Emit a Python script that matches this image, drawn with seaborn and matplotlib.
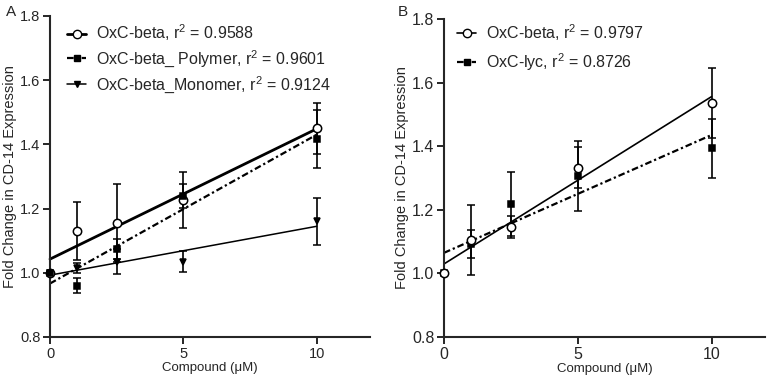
import seaborn as sns
import matplotlib.pyplot as plt
from matplotlib.lines import Line2D
import numpy as np

sns.set_style("ticks")
plt.rcParams['font.family'] = ['Liberation Sans', 'DejaVu Sans']
plt.rcParams['mathtext.default'] = 'regular'

# panel A data
dose = [0, 1, 2.5, 5, 10]
beta_a = [1.0, 1.131, 1.156, 1.227, 1.45]
beta_a_err = [0, 0.091, 0.121, 0.087, 0.08]
polymer = [1.0, 0.96, 1.074, 1.24, 1.417]
polymer_err = [0, 0.023, 0.032, 0.037, 0.09]
monomer = [1.0, 1.015, 1.035, 1.035, 1.16]
monomer_err = [0, 0.015, 0.04, 0.033, 0.073]
labels_a = ['OxC-beta, r$^2$ = 0.9588', 'OxC-beta_ Polymer, r$^2$ = 0.9601',
            'OxC-beta_Monomer, r$^2$ = 0.9124']

# panel B data
beta_b = [1.0, 1.105, 1.147, 1.333, 1.537]
beta_b_err = [0, 0.11, 0.035, 0.065, 0.11]
lyc = [1.0, 1.092, 1.218, 1.306, 1.393]
lyc_err = [0, 0.045, 0.1, 0.11, 0.093]
labels_b = ['OxC-beta, r$^2$ = 0.9797', 'OxC-lyc, r$^2$ = 0.8726']

dashdot = (0, (3, 1.3, 1, 1.3))

fig = plt.figure(figsize=(7.69, 3.79), dpi=100)
ax1 = fig.add_axes([50/769, 42/379, 320/769, 321/379])
ax2 = fig.add_axes([444/769, 42/379, 321/769, 318/379])


def draw(ax, y, err, marker, mfc, ms, ls, lw):
    x = np.array(dose)
    sns.regplot(x=x, y=np.array(y), ax=ax, scatter=False, ci=None, truncate=True,
                line_kws=dict(color='black', lw=lw, linestyle=ls))
    ax.errorbar(x, y, yerr=err, fmt=marker, color='black', mfc=mfc, mec='black',
                ms=ms, mew=1.1, capsize=2.8, elinewidth=1.2, capthick=1.2,
                ecolor='black', zorder=3)
    return Line2D([], [], color='black', lw=lw, linestyle=ls, marker=marker,
                  mfc=mfc, mec='black', ms=ms)


h1 = draw(ax1, beta_a, beta_a_err, 'o', 'white', 6, '-', 2.0)
h2 = draw(ax1, polymer, polymer_err, 's', 'black', 4.5, dashdot, 1.6)
h3 = draw(ax1, monomer, monomer_err, 'v', 'black', 4.5, '-', 1.1)
ax1.legend([h1, h2, h3], labels_a, loc='upper left', frameon=False, fontsize=11.5,
           handlelength=1.2, handletextpad=0.6, labelspacing=0.3,
           borderpad=0, borderaxespad=0, bbox_to_anchor=(17/320, 0.98))

g2 = draw(ax2, lyc, lyc_err, 's', 'black', 4.5, dashdot, 1.6)
g1 = draw(ax2, beta_b, beta_b_err, 'o', 'white', 6, '-', 1.2)
ax2.legend([g1, g2], labels_b, loc='upper left', frameon=False, fontsize=11.5,
           handlelength=1.2, handletextpad=0.6, labelspacing=0.5,
           borderpad=0, borderaxespad=0, bbox_to_anchor=(13/321, 0.99))

for ax, fs in [(ax1, 10.5), (ax2, 11.5)]:
    ax.set_xlim(0, 12)
    ax.set_ylim(0.8, 1.8)
    ax.set_xticks([0, 5, 10])
    ax.set_yticks([0.8, 1.0, 1.2, 1.4, 1.6, 1.8])
    ax.set_yticklabels(['0.8', '1.0', '1.2', '1.4', '1.6', '1.8'])
    ax.tick_params(labelsize=fs, width=1.4, length=5, pad=2)
    for s in ['left', 'bottom']:
        ax.spines[s].set_linewidth(1.5)
    sns.despine(ax=ax)
    ax.set_xlabel('Compound (μM)', fontsize=9.5, labelpad=1)
    ax.set_ylabel('Fold Change in CD-14 Expression', fontsize=10.5, labelpad=2)
    for art in ax.lines + ax.collections:
        art.set_clip_on(False)

fig.text(6/769, 1 - 16/379, 'A', fontsize=11)
fig.text(398/769, 1 - 16/379, 'B', fontsize=11)

fig.savefig('out.png', dpi=100)
